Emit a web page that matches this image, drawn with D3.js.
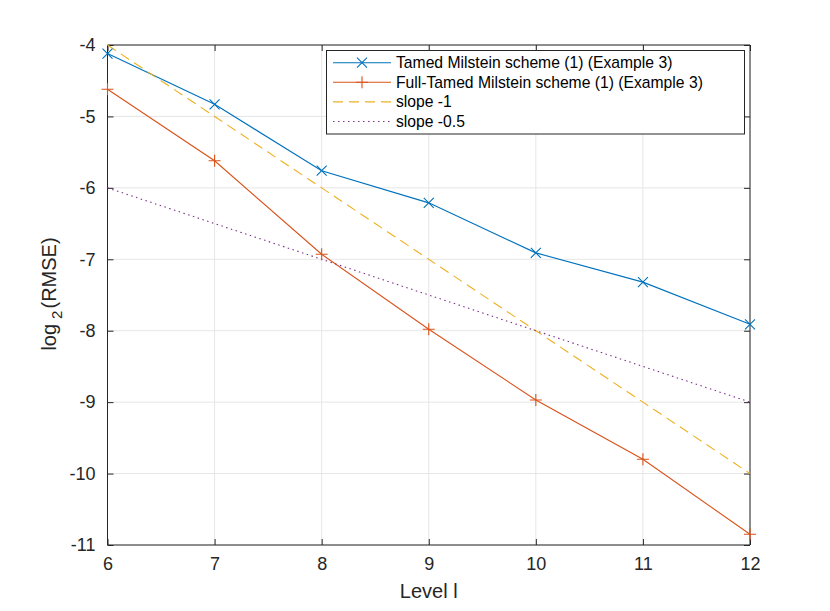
<!DOCTYPE html>
<html><head><meta charset="utf-8">
<script src="https://d3js.org/d3.v7.min.js"></script>
<style>body{margin:0;background:#fff}svg{display:block;font-family:"Liberation Sans",Arial,sans-serif}</style>
</head><body><div id="chart"></div>
<script>
const levels = [6,7,8,9,10,11,12];
const tamed = [-4.12,-4.83,-5.76,-6.21,-6.91,-7.32,-7.91];
const fullTamed = [-4.62,-5.62,-6.93,-7.98,-8.97,-9.80,-10.85];
const slope1 = [-4,-5,-6,-7,-8,-9,-10];
const slope05 = [-6,-6.5,-7,-7.5,-8,-8.5,-9];
const xTicks = [6,7,8,9,10,11,12];
const yTicks = [-4,-5,-6,-7,-8,-9,-10,-11];
const seriesNames = ["Tamed Milstein scheme (1) (Example 3)","Full-Tamed Milstein scheme (1) (Example 3)","slope -1","slope -0.5"];

const W=830,H=611;
const svg=d3.select("#chart").append("svg").attr("width",W).attr("height",H);
const L=107.5,R=750,T=45,B=545;
const x=d3.scaleLinear().domain([6,12]).range([L,R]);
const y=d3.scaleLinear().domain([-11,-4]).range([B,T]);
const axCol="#262626";

// grid
const g=svg.append("g");
g.selectAll(".gx").data(xTicks).enter().append("line")
 .attr("x1",d=>x(d)).attr("x2",d=>x(d)).attr("y1",T).attr("y2",B)
 .attr("stroke","#e6e6e6").attr("stroke-width",1);
g.selectAll(".gy").data(yTicks).enter().append("line")
 .attr("y1",d=>y(d)).attr("y2",d=>y(d)).attr("x1",L).attr("x2",R)
 .attr("stroke","#e6e6e6").attr("stroke-width",1);

// axes
const xa=d3.axisBottom(x).tickValues(xTicks).tickSize(-6).tickPadding(12).tickFormat(d3.format("d"));
const ya=d3.axisLeft(y).tickValues(yTicks).tickSize(-6).tickPadding(12).tickFormat(d=>String(d));
const xt=d3.axisTop(x).tickValues(xTicks).tickSize(-6).tickFormat("");
const yr=d3.axisRight(y).tickValues(yTicks).tickSize(-6).tickFormat("");
function style(sel){sel.selectAll("path").attr("stroke",axCol);sel.selectAll("line").attr("stroke",axCol);
 sel.selectAll("text").attr("fill",axCol).style("font-size","18px").style("font-family","Liberation Sans, Arial, sans-serif");}
svg.append("g").attr("transform",`translate(0,${B})`).call(xa).call(style).call(s=>s.select(".domain").attr("d",`M${L},0H${R}`));
svg.append("g").attr("transform",`translate(${L},0)`).call(ya).call(style).call(s=>s.select(".domain").attr("d",`M0,${T}V${B}`));
svg.append("g").attr("transform",`translate(0,${T})`).call(xt).call(style).call(s=>s.select(".domain").attr("d",`M${L},0H${R}`));
svg.append("g").attr("transform",`translate(${R},0)`).call(yr).call(style).call(s=>s.select(".domain").attr("d",`M0,${T}V${B}`));

const colors=["#0072BD","#D95319","#EDB120","#7E2F8E"];
const dashes=[null,null,"10,6","1.5,3.5"];
const data=[tamed,fullTamed,slope1,slope05];
const line=d3.line().x((d,i)=>x(levels[i])).y(d=>y(d));
data.forEach((s,k)=>{
  svg.append("path").datum(s).attr("d",line).attr("fill","none")
   .attr("stroke",colors[k]).attr("stroke-width",1.1)
   .attr("stroke-dasharray",dashes[k]);
});
function marker(sel,type,cx,cy,col){
  const r=5;
  if(type==="x"){
    sel.append("path").attr("d",`M${cx-r},${cy-r}L${cx+r},${cy+r}M${cx-r},${cy+r}L${cx+r},${cy-r}`).attr("stroke",col).attr("stroke-width",1.1).attr("fill","none");
  } else {
    sel.append("path").attr("d",`M${cx-6},${cy}H${cx+6}M${cx},${cy-6}V${cy+6}`).attr("stroke",col).attr("stroke-width",1.1).attr("fill","none");
  }
}
tamed.forEach((v,i)=>marker(svg,"x",x(levels[i]),y(v),colors[0]));
fullTamed.forEach((v,i)=>marker(svg,"+",x(levels[i]),y(v),colors[1]));

// labels
svg.append("text").attr("x",(L+R)/2).attr("y",598).attr("text-anchor","middle")
 .style("font-size","20px").attr("fill",axCol).text("Level l");
const yl=svg.append("text").attr("transform",`translate(56,${(T+B)/2 - 1}) rotate(-90)`).attr("text-anchor","middle")
 .style("font-size","20px").attr("fill",axCol);
yl.append("tspan").text("log");
yl.append("tspan").attr("dy",6).attr("dx",5).style("font-size","15px").text("2");
yl.append("tspan").attr("dy",-6).attr("dx",2).text("(RMSE)");

// legend
const lg=svg.append("g");
lg.append("rect").attr("x",326.5).attr("y",50.5).attr("width",418).attr("height",83.5)
 .attr("fill","#fff").attr("stroke",axCol).attr("stroke-width",1);
seriesNames.forEach((n,k)=>{
  const yy=62.7+k*19.6;
  lg.append("line").attr("x1",333).attr("x2",391).attr("y1",yy).attr("y2",yy)
   .attr("stroke",colors[k]).attr("stroke-width",1.1).attr("stroke-dasharray",dashes[k]);
  if(k===0) marker(lg,"x",362,yy,colors[0]);
  if(k===1) marker(lg,"+",362,yy,colors[1]);
  lg.append("text").attr("x",396).attr("y",yy+5.5).style("font-size","15.7px").attr("fill","#000").text(n);
});
</script></body></html>
